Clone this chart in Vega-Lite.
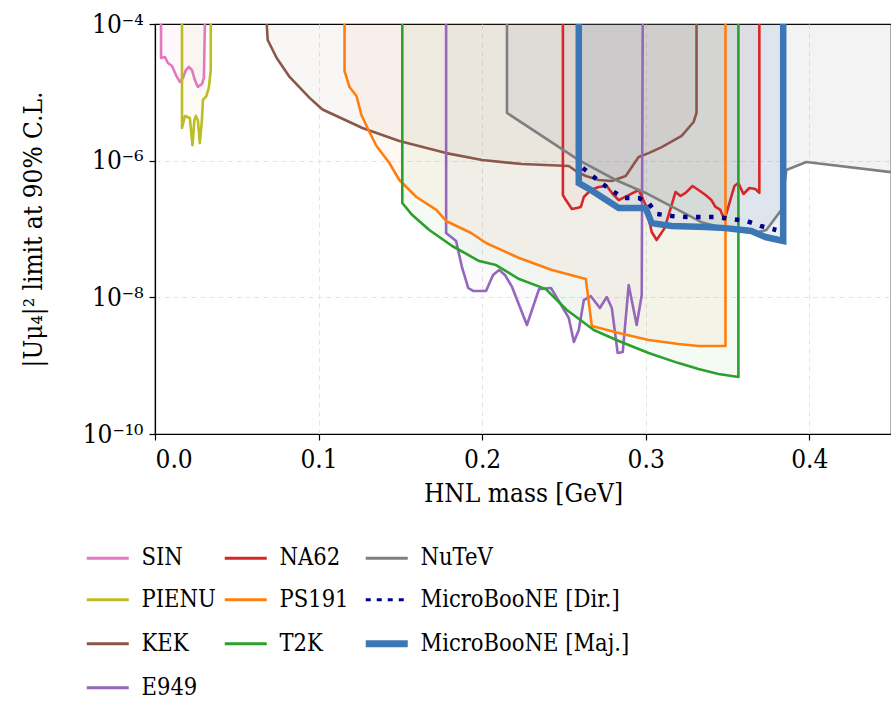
{
  "$schema": "https://vega.github.io/schema/vega-lite/v6.json",
  "width": 736,
  "height": 410,
  "autosize": {"type": "none"},
  "padding": {"left": 155, "top": 24, "right": 0, "bottom": 270},
  "background": "white",
  "config": {
    "font": "DejaVu Serif Condensed",
    "view": {"stroke": "black", "strokeWidth": 1.2},
    "axis": {
      "labelFont": "DejaVu Serif Condensed",
      "titleFont": "DejaVu Serif Condensed",
      "labelFontSize": 26,
      "titleFontSize": 26,
      "titleFontWeight": "normal",
      "labelColor": "black",
      "titleColor": "black",
      "domainColor": "black",
      "domainWidth": 1.2,
      "tickColor": "black",
      "tickSize": 6,
      "tickWidth": 1.2,
      "gridColor": "#e4e4e4",
      "gridDash": [5, 4],
      "gridWidth": 1
    },
    "legend": {
      "labelFont": "DejaVu Serif Condensed",
      "labelFontSize": 23.5,
      "labelColor": "black"
    }
  },
  "data": {"values": [
    {"s":"SIN","i":0,"x":0.0037,"y":1e-4},
    {"s":"SIN","i":1,"x":0.0037,"y":3.18e-5},
    {"s":"SIN","i":2,"x":0.0061,"y":3.29e-5},
    {"s":"SIN","i":3,"x":0.0079,"y":2.69e-5},
    {"s":"SIN","i":4,"x":0.0104,"y":2.43e-5},
    {"s":"SIN","i":5,"x":0.0128,"y":1.79e-5},
    {"s":"SIN","i":6,"x":0.0152,"y":1.42e-5},
    {"s":"SIN","i":7,"x":0.0171,"y":1.62e-5},
    {"s":"SIN","i":8,"x":0.0189,"y":2.12e-5},
    {"s":"SIN","i":9,"x":0.0207,"y":2.35e-5},
    {"s":"SIN","i":10,"x":0.0226,"y":2.12e-5},
    {"s":"SIN","i":11,"x":0.0244,"y":1.51e-5},
    {"s":"SIN","i":12,"x":0.0262,"y":1.20e-5},
    {"s":"SIN","i":13,"x":0.0287,"y":1.32e-5},
    {"s":"SIN","i":14,"x":0.0299,"y":1.62e-5},
    {"s":"SIN","i":15,"x":0.0305,"y":1e-4},

    {"s":"PIENU","i":0,"x":0.0165,"y":1e-4},
    {"s":"PIENU","i":1,"x":0.0165,"y":3.01e-6},
    {"s":"PIENU","i":2,"x":0.0183,"y":4.51e-6},
    {"s":"PIENU","i":3,"x":0.0213,"y":4.21e-6},
    {"s":"PIENU","i":4,"x":0.0229,"y":1.69e-6},
    {"s":"PIENU","i":5,"x":0.0241,"y":3.94e-6},
    {"s":"PIENU","i":6,"x":0.0250,"y":4.51e-6},
    {"s":"PIENU","i":7,"x":0.0262,"y":3.94e-6},
    {"s":"PIENU","i":8,"x":0.0274,"y":1.81e-6},
    {"s":"PIENU","i":9,"x":0.0287,"y":3.94e-6},
    {"s":"PIENU","i":10,"x":0.0293,"y":7.73e-6},
    {"s":"PIENU","i":11,"x":0.0314,"y":8.83e-6},
    {"s":"PIENU","i":12,"x":0.0329,"y":1.16e-5},
    {"s":"PIENU","i":13,"x":0.0341,"y":2.12e-5},
    {"s":"PIENU","i":14,"x":0.0341,"y":1e-4},

    {"s":"KEK","i":0,"x":0.0683,"y":1e-4},
    {"s":"KEK","i":1,"x":0.0689,"y":5.83e-5},
    {"s":"KEK","i":2,"x":0.0744,"y":3.18e-5},
    {"s":"KEK","i":3,"x":0.0823,"y":1.68e-5},
    {"s":"KEK","i":4,"x":0.0945,"y":8.3e-6},
    {"s":"KEK","i":5,"x":0.1024,"y":5.6e-6},
    {"s":"KEK","i":6,"x":0.1110,"y":4.51e-6},
    {"s":"KEK","i":7,"x":0.1268,"y":3.01e-6},
    {"s":"KEK","i":8,"x":0.1494,"y":1.94e-6},
    {"s":"KEK","i":9,"x":0.1780,"y":1.29e-6},
    {"s":"KEK","i":10,"x":0.2000,"y":1.02e-6},
    {"s":"KEK","i":11,"x":0.2244,"y":8.93e-7},
    {"s":"KEK","i":12,"x":0.2530,"y":8.35e-7},
    {"s":"KEK","i":13,"x":0.2573,"y":7.06e-7},
    {"s":"KEK","i":14,"x":0.2634,"y":5.97e-7},
    {"s":"KEK","i":15,"x":0.2713,"y":5.21e-7},
    {"s":"KEK","i":16,"x":0.2793,"y":5.04e-7},
    {"s":"KEK","i":17,"x":0.2878,"y":5.97e-7},
    {"s":"KEK","i":18,"x":0.2957,"y":1.13e-6},
    {"s":"KEK","i":19,"x":0.3018,"y":1.29e-6},
    {"s":"KEK","i":20,"x":0.3098,"y":1.58e-6},
    {"s":"KEK","i":21,"x":0.3220,"y":2.30e-6},
    {"s":"KEK","i":22,"x":0.3293,"y":3.68e-6},
    {"s":"KEK","i":23,"x":0.3311,"y":4.99e-6},
    {"s":"KEK","i":24,"x":0.3311,"y":1e-4},

    {"s":"E949","i":0,"x":0.1780,"y":1e-4},
    {"s":"E949","i":1,"x":0.1780,"y":8.73e-8},
    {"s":"E949","i":2,"x":0.1841,"y":6.67e-8},
    {"s":"E949","i":3,"x":0.1878,"y":2.69e-8},
    {"s":"E949","i":4,"x":0.1915,"y":1.37e-8},
    {"s":"E949","i":5,"x":0.1945,"y":1.24e-8},
    {"s":"E949","i":6,"x":0.2024,"y":1.24e-8},
    {"s":"E949","i":7,"x":0.2067,"y":2.12e-8},
    {"s":"E949","i":8,"x":0.2104,"y":2.51e-8},
    {"s":"E949","i":9,"x":0.2140,"y":2.12e-8},
    {"s":"E949","i":10,"x":0.2183,"y":1.42e-8},
    {"s":"E949","i":11,"x":0.2274,"y":3.94e-9},
    {"s":"E949","i":12,"x":0.2348,"y":1.32e-8},
    {"s":"E949","i":13,"x":0.2421,"y":1.37e-8},
    {"s":"E949","i":14,"x":0.2476,"y":8.26e-9},
    {"s":"E949","i":15,"x":0.2530,"y":4.98e-9},
    {"s":"E949","i":16,"x":0.2561,"y":2.22e-9},
    {"s":"E949","i":17,"x":0.2591,"y":3.33e-9},
    {"s":"E949","i":18,"x":0.2622,"y":9.14e-9},
    {"s":"E949","i":19,"x":0.2665,"y":1.04e-8},
    {"s":"E949","i":20,"x":0.2720,"y":6.98e-9},
    {"s":"E949","i":21,"x":0.2762,"y":1.01e-8},
    {"s":"E949","i":22,"x":0.2793,"y":6.98e-9},
    {"s":"E949","i":23,"x":0.2829,"y":1.53e-9},
    {"s":"E949","i":24,"x":0.2860,"y":1.58e-9},
    {"s":"E949","i":25,"x":0.2896,"y":1.51e-8},
    {"s":"E949","i":26,"x":0.2945,"y":3.94e-9},
    {"s":"E949","i":27,"x":0.2976,"y":1.08e-8},
    {"s":"E949","i":28,"x":0.2982,"y":1e-4},

    {"s":"NA62","i":0,"x":0.2494,"y":1e-4},
    {"s":"NA62","i":1,"x":0.2494,"y":3.14e-7},
    {"s":"NA62","i":2,"x":0.2512,"y":2.65e-7},
    {"s":"NA62","i":3,"x":0.2549,"y":1.96e-7},
    {"s":"NA62","i":4,"x":0.2579,"y":2.03e-7},
    {"s":"NA62","i":5,"x":0.2604,"y":2.10e-7},
    {"s":"NA62","i":6,"x":0.2622,"y":2.94e-7},
    {"s":"NA62","i":7,"x":0.2665,"y":3.72e-7},
    {"s":"NA62","i":8,"x":0.2713,"y":4.12e-7},
    {"s":"NA62","i":9,"x":0.2762,"y":4.26e-7},
    {"s":"NA62","i":10,"x":0.2799,"y":3.25e-7},
    {"s":"NA62","i":11,"x":0.2835,"y":2.65e-7},
    {"s":"NA62","i":12,"x":0.2896,"y":3.14e-7},
    {"s":"NA62","i":13,"x":0.2957,"y":3.72e-7},
    {"s":"NA62","i":14,"x":0.3000,"y":2.24e-7},
    {"s":"NA62","i":15,"x":0.3037,"y":9.04e-8},
    {"s":"NA62","i":16,"x":0.3067,"y":6.90e-8},
    {"s":"NA62","i":17,"x":0.3116,"y":1.03e-7},
    {"s":"NA62","i":18,"x":0.3183,"y":3.48e-7},
    {"s":"NA62","i":19,"x":0.3213,"y":3.04e-7},
    {"s":"NA62","i":20,"x":0.3244,"y":3.37e-7},
    {"s":"NA62","i":21,"x":0.3287,"y":4.26e-7},
    {"s":"NA62","i":22,"x":0.3323,"y":3.72e-7},
    {"s":"NA62","i":23,"x":0.3366,"y":3.14e-7},
    {"s":"NA62","i":24,"x":0.3402,"y":2.65e-7},
    {"s":"NA62","i":25,"x":0.3427,"y":2.10e-7},
    {"s":"NA62","i":26,"x":0.3457,"y":1.90e-7},
    {"s":"NA62","i":27,"x":0.3482,"y":1.36e-7},
    {"s":"NA62","i":28,"x":0.3512,"y":2.40e-7},
    {"s":"NA62","i":29,"x":0.3543,"y":4.26e-7},
    {"s":"NA62","i":30,"x":0.3567,"y":4.71e-7},
    {"s":"NA62","i":31,"x":0.3598,"y":3.25e-7},
    {"s":"NA62","i":32,"x":0.3634,"y":3.98e-7},
    {"s":"NA62","i":33,"x":0.3671,"y":3.85e-7},
    {"s":"NA62","i":34,"x":0.3695,"y":3.37e-7},
    {"s":"NA62","i":35,"x":0.3695,"y":1e-4},

    {"s":"PS191","i":0,"x":0.1159,"y":1e-4},
    {"s":"PS191","i":1,"x":0.1159,"y":2.05e-5},
    {"s":"PS191","i":2,"x":0.1189,"y":1.20e-5},
    {"s":"PS191","i":3,"x":0.1232,"y":8.83e-6},
    {"s":"PS191","i":4,"x":0.1262,"y":4.66e-6},
    {"s":"PS191","i":5,"x":0.1311,"y":2.63e-6},
    {"s":"PS191","i":6,"x":0.1354,"y":1.64e-6},
    {"s":"PS191","i":7,"x":0.1433,"y":9.24e-7},
    {"s":"PS191","i":8,"x":0.1494,"y":5.21e-7},
    {"s":"PS191","i":9,"x":0.1598,"y":2.94e-7},
    {"s":"PS191","i":10,"x":0.1720,"y":1.90e-7},
    {"s":"PS191","i":11,"x":0.1780,"y":1.31e-7},
    {"s":"PS191","i":12,"x":0.1933,"y":8.73e-8},
    {"s":"PS191","i":13,"x":0.2024,"y":6.24e-8},
    {"s":"PS191","i":14,"x":0.2226,"y":3.76e-8},
    {"s":"PS191","i":15,"x":0.2427,"y":2.51e-8},
    {"s":"PS191","i":16,"x":0.2634,"y":1.85e-8},
    {"s":"PS191","i":17,"x":0.2671,"y":3.80e-9},
    {"s":"PS191","i":18,"x":0.2835,"y":3.01e-9},
    {"s":"PS191","i":19,"x":0.3018,"y":2.37e-9},
    {"s":"PS191","i":20,"x":0.3201,"y":2.07e-9},
    {"s":"PS191","i":21,"x":0.3323,"y":1.94e-9},
    {"s":"PS191","i":22,"x":0.3488,"y":1.94e-9},
    {"s":"PS191","i":23,"x":0.3488,"y":1e-4},

    {"s":"T2K","i":0,"x":0.1512,"y":1e-4},
    {"s":"T2K","i":1,"x":0.1512,"y":2.40e-7},
    {"s":"T2K","i":2,"x":0.1573,"y":1.60e-7},
    {"s":"T2K","i":3,"x":0.1677,"y":9.66e-8},
    {"s":"T2K","i":4,"x":0.1817,"y":5.64e-8},
    {"s":"T2K","i":5,"x":0.1982,"y":3.40e-8},
    {"s":"T2K","i":6,"x":0.2085,"y":2.97e-8},
    {"s":"T2K","i":7,"x":0.2226,"y":1.85e-8},
    {"s":"T2K","i":8,"x":0.2390,"y":1.32e-8},
    {"s":"T2K","i":9,"x":0.2518,"y":6.52e-9},
    {"s":"T2K","i":10,"x":0.2683,"y":3.33e-9},
    {"s":"T2K","i":11,"x":0.2835,"y":2.30e-9},
    {"s":"T2K","i":12,"x":0.3018,"y":1.53e-9},
    {"s":"T2K","i":13,"x":0.3201,"y":1.09e-9},
    {"s":"T2K","i":14,"x":0.3323,"y":8.93e-10},
    {"s":"T2K","i":15,"x":0.3445,"y":7.55e-10},
    {"s":"T2K","i":16,"x":0.3567,"y":6.82e-10},
    {"s":"T2K","i":17,"x":0.3567,"y":1e-4},

    {"s":"NuTeV","i":0,"x":0.2152,"y":1e-4},
    {"s":"NuTeV","i":1,"x":0.2152,"y":4.99e-6},
    {"s":"NuTeV","i":2,"x":0.2591,"y":1.02e-6},
    {"s":"NuTeV","i":3,"x":0.2817,"y":5.21e-7},
    {"s":"NuTeV","i":4,"x":0.3000,"y":3.37e-7},
    {"s":"NuTeV","i":5,"x":0.3341,"y":1.26e-7},
    {"s":"NuTeV","i":6,"x":0.3524,"y":9.66e-8},
    {"s":"NuTeV","i":7,"x":0.3689,"y":9.04e-8},
    {"s":"NuTeV","i":8,"x":0.3738,"y":9.66e-8},
    {"s":"NuTeV","i":9,"x":0.3829,"y":1.90e-7},
    {"s":"NuTeV","i":10,"x":0.3860,"y":7.30e-7},
    {"s":"NuTeV","i":11,"x":0.3982,"y":9.55e-7},
    {"s":"NuTeV","i":12,"x":0.4500,"y":6.8e-7},

    {"s":"MicroBooNE [Maj.]","i":0,"x":0.2591,"y":1e-4},
    {"s":"MicroBooNE [Maj.]","i":1,"x":0.2591,"y":4.71e-7},
    {"s":"MicroBooNE [Maj.]","i":2,"x":0.2665,"y":3.72e-7},
    {"s":"MicroBooNE [Maj.]","i":3,"x":0.2835,"y":2.03e-7},
    {"s":"MicroBooNE [Maj.]","i":4,"x":0.3000,"y":2.03e-7},
    {"s":"MicroBooNE [Maj.]","i":5,"x":0.3037,"y":1.22e-7},
    {"s":"MicroBooNE [Maj.]","i":6,"x":0.3159,"y":1.11e-7},
    {"s":"MicroBooNE [Maj.]","i":7,"x":0.3366,"y":1.07e-7},
    {"s":"MicroBooNE [Maj.]","i":8,"x":0.3488,"y":1.03e-7},
    {"s":"MicroBooNE [Maj.]","i":9,"x":0.3646,"y":9.34e-8},
    {"s":"MicroBooNE [Maj.]","i":10,"x":0.3732,"y":7.63e-8},
    {"s":"MicroBooNE [Maj.]","i":11,"x":0.3841,"y":6.67e-8},
    {"s":"MicroBooNE [Maj.]","i":12,"x":0.3841,"y":1e-4},

    {"s":"MicroBooNE [Dir.]","i":0,"x":0.2616,"y":7.81e-7},
    {"s":"MicroBooNE [Dir.]","i":1,"x":0.2713,"y":5.04e-7},
    {"s":"MicroBooNE [Dir.]","i":2,"x":0.2787,"y":3.72e-7},
    {"s":"MicroBooNE [Dir.]","i":3,"x":0.2866,"y":2.84e-7},
    {"s":"MicroBooNE [Dir.]","i":4,"x":0.2957,"y":2.84e-7},
    {"s":"MicroBooNE [Dir.]","i":5,"x":0.3018,"y":2.40e-7},
    {"s":"MicroBooNE [Dir.]","i":6,"x":0.3067,"y":1.66e-7},
    {"s":"MicroBooNE [Dir.]","i":7,"x":0.3159,"y":1.55e-7},
    {"s":"MicroBooNE [Dir.]","i":8,"x":0.3250,"y":1.50e-7},
    {"s":"MicroBooNE [Dir.]","i":9,"x":0.3341,"y":1.50e-7},
    {"s":"MicroBooNE [Dir.]","i":10,"x":0.3433,"y":1.50e-7},
    {"s":"MicroBooNE [Dir.]","i":11,"x":0.3524,"y":1.40e-7},
    {"s":"MicroBooNE [Dir.]","i":12,"x":0.3616,"y":1.31e-7},
    {"s":"MicroBooNE [Dir.]","i":13,"x":0.3701,"y":1.11e-7},
    {"s":"MicroBooNE [Dir.]","i":14,"x":0.3799,"y":9.66e-8}
  ]},
  "encoding": {
    "x": {
      "field": "x", "type": "quantitative",
      "scale": {"domain": [0, 0.45], "nice": false, "zero": false},
      "axis": {"values": [0, 0.1, 0.2, 0.3, 0.4], "format": ".1f", "title": "HNL mass [GeV]", "labelPadding": 6, "titlePadding": 8, "grid": true}
    },
    "y": {
      "field": "y", "type": "quantitative",
      "scale": {"type": "log", "domain": [1e-10, 1e-4], "nice": false},
      "axis": {
        "values": [1e-10, 1e-8, 1e-6, 1e-4],
        "labelExpr": "datum.value > 5e-5 ? '10⁻⁴' : datum.value > 5e-7 ? '10⁻⁶' : datum.value > 5e-9 ? '10⁻⁸' : '10⁻¹⁰'",
        "title": "|Uμ₄|² limit at 90% C.L.",
        "titlePadding": 36,
        "labelPadding": 6,
        "grid": true,
        "gridOpacity": {"condition": {"test": "datum.value > 5e-5 || datum.value < 5e-10", "value": 0}, "value": 1}
      }
    },
    "color": {
      "field": "s", "type": "nominal",
      "scale": {
        "domain": ["SIN", "PIENU", "KEK", "MicroBooNE [Maj.]", "NA62", "PS191", "T2K", "E949", "NuTeV", "MicroBooNE [Dir.]"],
        "range": ["#e377c2", "#bcbd22", "#8c564b", "#3b77b5", "#d62728", "#ff7f0e", "#2ca02c", "#9467bd", "#7f7f7f", "#00008b"]
      },
      "legend": {
        "orient": "none",
        "legendX": -59,
        "legendY": 522,
        "columns": 3,
        "title": null,
        "symbolType": "stroke",
        "symbolSize": 1764,
        "symbolStrokeWidth": 3,
        "symbolFillColor": "transparent",
        "labelOffset": 22,
        "rowPadding": 17,
        "columnPadding": 2,
        "labelLimit": 400,
        "encode": {
          "symbols": {
            "update": {
              "strokeWidth": {"signal": "datum.value === 'MicroBooNE [Maj.]' ? 7 : 3"},
              "strokeDash": {"signal": "datum.value === 'MicroBooNE [Dir.]' ? [5, 6] : null"}
            }
          }
        }
      }
    }
  },
  "layer": [
    {
      "transform": [{"filter": "datum.s !== 'MicroBooNE [Dir.]' && datum.y < 9e-5"}],
      "mark": {"type": "area", "clip": true, "strokeWidth": 0},
      "encoding": {
        "y": {"field": "y", "type": "quantitative", "stack": null},
        "y2": {"datum": 1e-4},
        "fillOpacity": {
          "condition": [
            {"test": "datum.s === 'MicroBooNE [Maj.]'", "value": 0.11},
            {"test": "datum.s === 'NuTeV'", "value": 0.09},
            {"test": "datum.s === 'NA62' || datum.s === 'E949'", "value": 0.035}
          ],
          "value": 0.05
        }
      }
    },
    {
      "transform": [{"filter": "datum.s !== 'MicroBooNE [Dir.]' && datum.s !== 'MicroBooNE [Maj.]'"}],
      "mark": {"type": "line", "clip": true, "strokeWidth": 2.6, "strokeJoin": "round"},
      "encoding": {"order": {"field": "i", "type": "quantitative"}}
    },
    {
      "transform": [{"filter": "datum.s === 'MicroBooNE [Maj.]'"}],
      "mark": {"type": "line", "clip": true, "strokeWidth": 6.5, "strokeJoin": "miter"},
      "encoding": {"order": {"field": "i", "type": "quantitative"}}
    },
    {
      "transform": [{"filter": "datum.s === 'MicroBooNE [Dir.]'"}],
      "mark": {"type": "line", "clip": true, "strokeWidth": 4.5, "strokeDash": [4.5, 8.5]},
      "encoding": {"order": {"field": "i", "type": "quantitative"}}
    }
  ]
}
